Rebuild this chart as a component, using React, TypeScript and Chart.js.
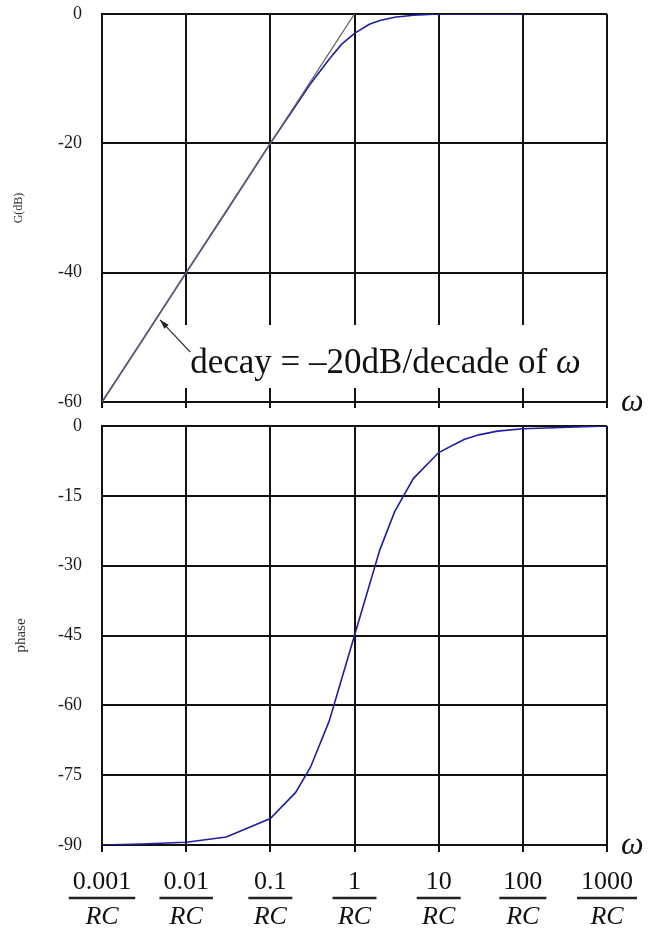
import React, { useEffect, useRef } from "react";
import { Chart, registerables } from "chart.js";
Chart.register(...registerables);

// ---- data ----
const decades = [0.001, 0.01, 0.1, 1, 10, 100, 1000];
const decadeLabels = ["0.001", "0.01", "0.1", "1", "10", "100", "1000"];
const gainTicks = [0, -20, -40, -60];
const phaseTicks = [0, -15, -30, -45, -60, -75, -90];

const gainOmega = [0.001, 0.003, 0.01, 0.03, 0.1, 0.2, 0.3, 0.5, 0.7, 1, 1.5, 2, 3, 5, 10, 100];
const gainDb = [-60, -50.5, -40, -30.5, -20, -14.2, -10.8, -7, -4.7, -3, -1.6, -1, -0.5, -0.2, 0, 0];
const asymOmega = [0.001, 1];
const asymDb = [-60, 0];

const phaseOmega = [0.001, 0.003, 0.01, 0.03, 0.1, 0.2, 0.3, 0.5, 1, 2, 3, 5, 10, 20, 30, 50, 100, 1000];
const phaseDeg = [-90, -89.8, -89.4, -88.3, -84.3, -78.7, -73.3, -63.4, -45, -26.6, -18.4, -11.3, -5.7, -2.9, -1.9, -1.1, -0.6, 0];

const SERIF = "'Liberation Serif', 'Times New Roman', serif";
const BLUE = "#1f1fa0";
const GRID = "#111";
const W = 657;
const PLOT_L = 102;
const PLOT_R = 607;

const zip = (xs: number[], ys: number[]) => xs.map((x, i) => ({ x, y: ys[i] }));

function xScaleOpts(tickLen: number, height: number) {
  return {
    type: "logarithmic" as const,
    min: 0.001,
    max: 1000,
    afterBuildTicks: (s: any) => {
      s.ticks = decades.map((v) => ({ value: v }));
    },
    afterFit: (s: any) => {
      s.height = height;
      s.paddingLeft = 0;
      s.paddingRight = 0;
    },
    ticks: { display: false },
    grid: { color: GRID, lineWidth: 2, drawTicks: true, tickLength: tickLen, tickColor: GRID },
    border: { color: GRID, width: 2 },
  };
}

function yScaleOpts(min: number, max: number, ticks: number[], title: string, titleSize: number) {
  return {
    type: "linear" as const,
    min,
    max,
    afterBuildTicks: (s: any) => {
      s.ticks = ticks.map((v) => ({ value: v }));
    },
    afterFit: (s: any) => {
      s.width = PLOT_L;
      s.paddingTop = 0;
      s.paddingBottom = 0;
    },
    ticks: {
      padding: 20,
      color: "#1a1a1a",
      font: { family: SERIF, size: 18 },
      callback: (v: any) => String(v),
    },
    title: {
      display: true,
      text: title,
      color: "#333",
      font: { family: SERIF, size: titleSize },
      padding: { top: 12, bottom: 0 },
    },
    grid: { color: GRID, lineWidth: 2, drawTicks: false },
    border: { color: GRID, width: 2 },
  };
}

const omegaPlugin = {
  id: "omegaLabel",
  afterDraw(chart: any) {
    const { ctx, chartArea } = chart;
    ctx.save();
    ctx.fillStyle = "#111";
    ctx.font = `italic 32px ${SERIF}`;
    ctx.textAlign = "left";
    ctx.textBaseline = "middle";
    ctx.fillText("ω", chartArea.right + 14, chartArea.bottom + 1);
    ctx.restore();
  },
};

const annotationPlugin = {
  id: "decayNote",
  beforeDatasetsDraw(chart: any) {
    const { ctx, chartArea, scales } = chart;
    const x = scales.x;
    const y = scales.y;
    const boxL = x.getPixelForValue(0.0085);
    const boxT = chartArea.bottom - 77;
    ctx.save();
    ctx.fillStyle = "#fff";
    ctx.fillRect(boxL, boxT, 410, 63);
    // text
    ctx.fillStyle = "#111";
    ctx.textBaseline = "alphabetic";
    ctx.textAlign = "left";
    const tx = boxL + 10;
    const ty = boxT + 48;
    ctx.font = `35px ${SERIF}`;
    const main = "decay = \u201320dB/decade of ";
    ctx.fillText(main, tx, ty);
    const w = ctx.measureText(main).width;
    ctx.font = `italic 35px ${SERIF}`;
    ctx.fillText("ω", tx + w, ty);
    // arrow
    const tipX = x.getPixelForValue(0.0045) + 3;
    const tipY = y.getPixelForValue(-47.3);
    const tailX = tx;
    const tailY = boxT + 27;
    ctx.strokeStyle = "#333";
    ctx.fillStyle = "#222";
    ctx.lineWidth = 1.2;
    ctx.beginPath();
    ctx.moveTo(tailX, tailY);
    ctx.lineTo(tipX, tipY);
    ctx.stroke();
    const ang = Math.atan2(tipY - tailY, tipX - tailX);
    const hl = 10;
    ctx.beginPath();
    ctx.moveTo(tipX, tipY);
    ctx.lineTo(tipX - hl * Math.cos(ang - 0.3), tipY - hl * Math.sin(ang - 0.3));
    ctx.lineTo(tipX - hl * Math.cos(ang + 0.3), tipY - hl * Math.sin(ang + 0.3));
    ctx.closePath();
    ctx.fill();
    ctx.restore();
  },
};

const fractionPlugin = {
  id: "fractionLabels",
  afterDraw(chart: any) {
    const { ctx, chartArea, scales } = chart;
    const x = scales.x;
    ctx.save();
    ctx.fillStyle = "#111";
    ctx.strokeStyle = "#222";
    ctx.textAlign = "center";
    ctx.textBaseline = "alphabetic";
    decades.forEach((v, i) => {
      const px = x.getPixelForValue(v);
      ctx.font = `26px ${SERIF}`;
      const num = decadeLabels[i];
      const nw = ctx.measureText(num).width;
      ctx.fillText(num, px, chartArea.bottom + 44);
      ctx.font = `italic 26px ${SERIF}`;
      const dw = ctx.measureText("RC").width;
      ctx.fillText("RC", px, chartArea.bottom + 79);
      const lw = Math.max(nw, dw, 36) + 8;
      ctx.lineWidth = 2.5;
      ctx.beginPath();
      ctx.moveTo(px - lw / 2, chartArea.bottom + 53);
      ctx.lineTo(px + lw / 2, chartArea.bottom + 53);
      ctx.stroke();
    });
    ctx.restore();
  },
};

export default function App() {
  const topRef = useRef<HTMLCanvasElement>(null);
  const botRef = useRef<HTMLCanvasElement>(null);

  useEffect(() => {
    const top = new Chart(topRef.current!, {
      type: "scatter",
      data: {
        datasets: [
          {
            data: zip(asymOmega, asymDb),
            showLine: true,
            borderColor: "#666",
            borderWidth: 1.3,
            pointRadius: 0,
          },
          {
            data: zip(gainOmega, gainDb),
            showLine: true,
            borderColor: BLUE,
            borderWidth: 1.6,
            pointRadius: 0,
          },
        ],
      },
      options: {
        animation: false,
        responsive: false,
        layout: { padding: { top: 14, right: W - PLOT_R, left: 0, bottom: 0 } },
        plugins: { legend: { display: false }, tooltip: { enabled: false } },
        scales: {
          x: xScaleOpts(6, 12),
          y: yScaleOpts(-60, 0, gainTicks, "G(dB)", 12),
        },
      },
      plugins: [annotationPlugin, omegaPlugin],
    });

    const bot = new Chart(botRef.current!, {
      type: "scatter",
      data: {
        datasets: [
          {
            data: zip(phaseOmega, phaseDeg),
            showLine: true,
            borderColor: BLUE,
            borderWidth: 1.6,
            pointRadius: 0,
          },
        ],
      },
      options: {
        animation: false,
        responsive: false,
        layout: { padding: { top: 12, right: W - PLOT_R, left: 0, bottom: 0 } },
        plugins: { legend: { display: false }, tooltip: { enabled: false } },
        scales: {
          x: xScaleOpts(7, 83),
          y: yScaleOpts(-90, 0, phaseTicks, "phase", 15),
        },
      },
      plugins: [fractionPlugin, omegaPlugin],
    });

    return () => {
      top.destroy();
      bot.destroy();
    };
  }, []);

  return (
    <div style={{ position: "fixed", left: 0, top: 0, width: W, height: 928, background: "#fff" }}>
      <canvas
        ref={topRef}
        width={W}
        height={414}
        style={{ position: "absolute", left: 0, top: 0, width: W, height: 414 }}
      />
      <canvas
        ref={botRef}
        width={W}
        height={514}
        style={{ position: "absolute", left: 0, top: 414, width: W, height: 514 }}
      />
    </div>
  );
}
